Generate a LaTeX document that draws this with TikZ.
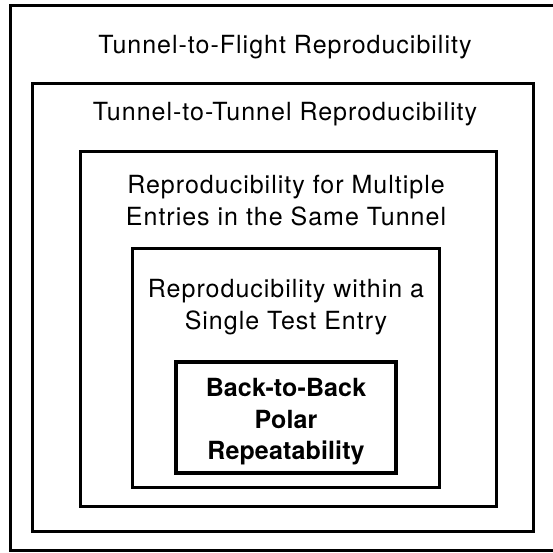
\documentclass[tikz,border=0pt]{standalone}
\usepackage{fontspec}
\setmainfont{TeX Gyre Heros}[LetterSpace=4]
\begin{document}
\begin{tikzpicture}[x=1pt,y=-1pt,
  frame/.style={draw=black,line width=3pt,inner sep=0pt},
  innerframe/.style={frame,line width=4pt},
  txt/.style={anchor=base,inner sep=0pt,font=\fontsize{25}{32}\selectfont},
  boldtxt/.style={txt,font=\fontsize{25}{32}\selectfont\bfseries\addfontfeature{LetterSpace=0.5}}]
  \useasboundingbox (0,0) rectangle (553,552);

  % nested levels, outermost first; the outermost one runs past the right edge
  \node[frame,minimum width=560pt,minimum height=545pt] (flight) at (290,277.5) {};
  \node[frame,minimum width=501pt,minimum height=448pt] (tunnel) at (282.5,307) {};
  \node[frame,minimum width=416pt,minimum height=355pt] (entries) at (288,328.5) {};
  \node[frame,minimum width=307pt,minimum height=239pt] (single) at (285.5,367.5) {};
  \node[innerframe,minimum width=220pt,minimum height=111pt] (polar) at (286,417.5) {};

  % level titles
  \node[txt] (t1) at (285,53) {Tunnel-to-Flight Reproducibility};
  \node[txt] (t2) at (285,120) {Tunnel-to-Tunnel Reproducibility};
  \node[txt] (t3a) at (286,193) {Reproducibility for Multiple};
  \node[txt] (t3b) at (286,225) {Entries in the Same Tunnel};
  \node[txt] (t4a) at (286,297) {Reproducibility within a};
  \node[txt] (t4b) at (286,329) {Single Test Entry};
  \node[boldtxt] (t5a) at (286,396) {Back-to-Back};
  \node[boldtxt] (t5b) at (286,428) {Polar};
  \node[boldtxt] (t5c) at (286,459) {Repeatability};
\end{tikzpicture}
\end{document}
